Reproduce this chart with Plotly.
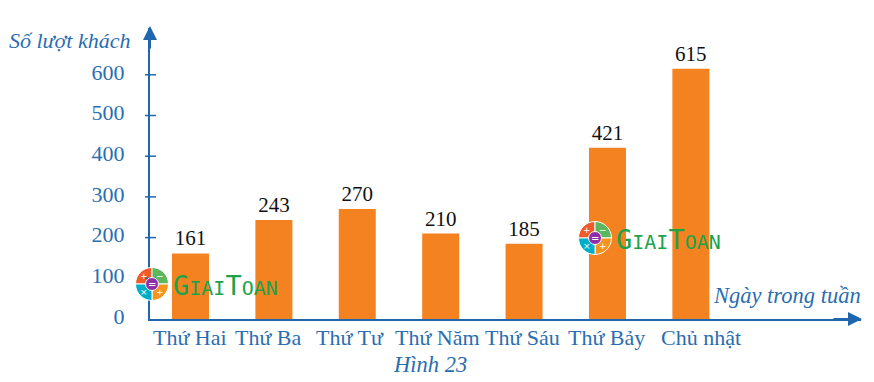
import plotly.graph_objects as go

days = ["Thứ Hai", "Thứ Ba", "Thứ Tư", "Thứ Năm", "Thứ Sáu", "Thứ Bảy", "Chủ nhật"]
visitors = [161, 243, 270, 210, 185, 421, 615]
y_ticks = [0, 100, 200, 300, 400, 500, 600]
label_offsets = [0, -5, -7, -3, -2, -1, 10]
logo_parts = [25, 25, 25, 25]
logo_colors = ["#f15a29", "#5cb85c", "#f7941d", "#00aec7"]
logo_signs = ["+", "−", "+", "×"]

W, H = 874, 382
BLUE = "#2a6db0"
AXIS = "#1f66ae"
L, R, T, B = 150, 861, 28, 319
Y_MAX = 715
px = lambda v: v / W
py = lambda v: 1 - v / H
SERIF = "Liberation Serif"

fig = go.Figure()
fig.add_bar(x=days, y=visitors, width=37 / 83.4, marker=dict(color="#f58220", line=dict(width=0)),
            text=[str(v) for v in visitors], textposition="outside", cliponaxis=False,
            textfont=dict(family=SERIF, size=21, color="#111111"), showlegend=False)

annotations = []
for d, off in zip(days, label_offsets):
    annotations.append(dict(x=d, y=0, xref="x", yref="y", text=d, showarrow=False, xshift=off,
                            yanchor="top", yshift=-4, font=dict(family=SERIF, size=22, color=BLUE)))

def note(x, y, text, size=20, italic=True, anchor="center", color=BLUE, family=SERIF):
    annotations.append(dict(x=px(x), y=py(y), xref="paper", yref="paper", text=f"<i>{text}</i>" if italic else text,
                            showarrow=False, xanchor=anchor, yanchor="middle", borderpad=0,
                            font=dict(family=family, size=size, color=color)))

note(132, 41, "Số lượt khách", 22, anchor="right")
note(862, 295, "Ngày trong tuần", 22.5, anchor="right")
note(430, 364, "Hình 23", 22.5)

# axis arrows
annotations.append(dict(x=px(150), y=py(26), ax=0, ay=24, xref="paper", yref="paper", axref="pixel", ayref="pixel",
                        text="", showarrow=True, arrowhead=2, arrowsize=1.4, arrowwidth=2, arrowcolor=AXIS))
annotations.append(dict(x=px(862), y=py(319), ax=-30, ay=0, xref="paper", yref="paper", axref="pixel", ayref="pixel",
                        text="", showarrow=True, arrowhead=2, arrowsize=1.4, arrowwidth=2, arrowcolor=AXIS))

shapes = []
# tick marks crossing the axis
for t in y_ticks[1:]:
    shapes.append(dict(type="line", xref="paper", yref="y", x0=px(145), x1=px(156), y0=t, y1=t,
                       line=dict(color=AXIS, width=1.5)))

# watermark logos
for cx, cy in [(152, 284), (595, 238)]:
    r = 16.5
    fig.add_pie(values=logo_parts, sort=False, direction="clockwise", rotation=270, hole=0.3,
                domain=dict(x=[px(cx - r), px(cx + r)], y=[py(cy + r), py(cy - r)]),
                marker=dict(colors=logo_colors, line=dict(color="white", width=1)),
                textinfo="none", hoverinfo="skip", showlegend=False)
    shapes.append(dict(type="circle", xref="paper", yref="paper", x0=px(cx - 6.5), x1=px(cx + 6.5),
                       y0=py(cy + 6.5), y1=py(cy - 6.5), fillcolor="#8e2da8", line=dict(color="white", width=1), layer="above"))
    note(cx, cy, "=", 10, italic=False, color="white", family="DejaVu Sans")
    for (dx, dy), s in zip([(-8, -8), (8, -8), (8, 8), (-8, 8)], logo_signs):
        note(cx + dx, cy + dy, s, 9, italic=False, color="white", family="DejaVu Sans")
    big = '<span style="font-size:27px">%s</span>'
    note(cx + 20, cy + 1,
         big % "G" + "IAI" + big % "T" + "OAN", 20, italic=False, anchor="left", color="#1aa34a", family="DejaVu Sans Mono")

fig.update_layout(
    width=W, height=H, margin=dict(l=0, r=0, t=0, b=0), paper_bgcolor="white", plot_bgcolor="white",
    bargap=0.55, shapes=shapes, annotations=annotations, showlegend=False,
    xaxis=dict(domain=[px(L), px(R)], range=[-0.4855, 8.04], type="category", categoryorder="array", categoryarray=days,
               showgrid=False, zeroline=False, showticklabels=False, ticks="", automargin=False,
               showline=True, linecolor=AXIS, linewidth=2),
    yaxis=dict(domain=[py(B), py(T)], range=[0, Y_MAX], tickmode="array", tickvals=y_ticks,
               ticktext=[str(t) for t in y_ticks], showgrid=False, zeroline=False, ticks="", automargin=False,
               ticklabelstandoff=19, ticklabelshift=-3, tickfont=dict(family=SERIF, size=22, color=BLUE),
               showline=True, linecolor=AXIS, linewidth=2),
)
fig.write_html("out.html", config={"displayModeBar": False, "responsive": False},
               post_script="document.body.style.margin='0';")
